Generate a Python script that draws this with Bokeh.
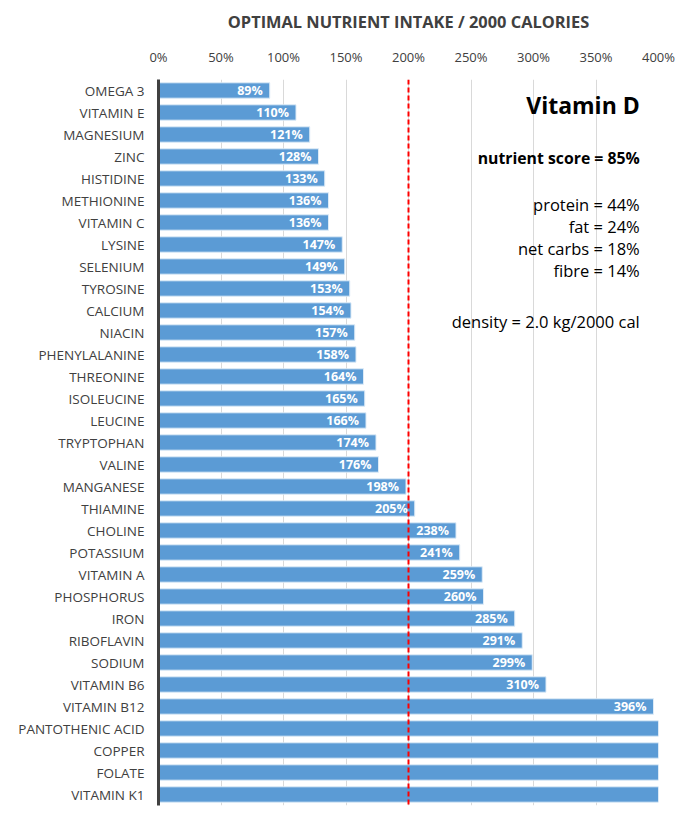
from bokeh.plotting import figure
from bokeh.models import ColumnDataSource, Span, FixedTicker, Label, Range1d
from bokeh.core.properties import value
from bokeh.embed import file_html
from bokeh.resources import INLINE

nutrients = ["OMEGA 3", "VITAMIN E", "MAGNESIUM", "ZINC", "HISTIDINE", "METHIONINE",
             "VITAMIN C", "LYSINE", "SELENIUM", "TYROSINE", "CALCIUM", "NIACIN",
             "PHENYLALANINE", "THREONINE", "ISOLEUCINE", "LEUCINE", "TRYPTOPHAN", "VALINE",
             "MANGANESE", "THIAMINE", "CHOLINE", "POTASSIUM", "VITAMIN A", "PHOSPHORUS",
             "IRON", "RIBOFLAVIN", "SODIUM", "VITAMIN B6", "VITAMIN B12",
             "PANTOTHENIC ACID", "COPPER", "FOLATE", "VITAMIN K1"]
values = [89, 110, 121, 128, 133, 136, 136, 147, 149, 153, 154, 157, 158, 164, 165, 166,
          174, 176, 198, 205, 238, 241, 259, 260, 285, 291, 299, 310, 396,
          480, 540, 610, 720]
x_ticks = [0, 50, 100, 150, 200, 250, 300, 350, 400]
title_text = "OPTIMAL NUTRIENT INTAKE / 2000 CALORIES"
food_name = "Vitamin D"
score_text = "nutrient score = 85%"
macro_lines = ["protein = 44%", "fat = 24%", "net carbs = 18%", "fibre = 14%"]
density_text = "density = 2.0 kg/2000 cal"

n = len(nutrients)
idx = list(range(n))
src = ColumnDataSource(dict(y=idx, v=values, right=[min(v, 400) for v in values]))
lab_idx = [i for i, v in enumerate(values) if v <= 400]
lab_src = ColumnDataSource(dict(y=lab_idx, x=[values[i] for i in lab_idx],
                                t=[f"{values[i]}%" for i in lab_idx]))

FONT = "Open Sans"
p = figure(width=675, height=808, output_backend="svg", toolbar_location=None,
           x_range=Range1d(0, 400), y_range=Range1d(n - 0.5, -0.5),
           x_axis_location="above", min_border_left=158, min_border_right=17,
           min_border_top=79, min_border_bottom=3)
p.outline_line_color = None
p.background_fill_color = "white"

p.hbar(y="y", left=0, right="right", height=0.7, source=src,
       fill_color="#5B9BD5", line_color="#DDEBF7", line_width=1)

p.text(x="x", y="y", text="t", source=lab_src, text_align="right", text_baseline="middle",
       x_offset=-7, text_color="white", text_font=value(FONT), text_font_style="bold",
       text_font_size="12.5px")

p.add_layout(Span(location=200, dimension="height", line_color="#FF0000",
                  line_width=2, line_dash="5 3"))

# axes
xa = p.xaxis[0]
xa.ticker = FixedTicker(ticks=x_ticks)
xa.major_label_overrides = {t: f"{t}%" for t in x_ticks}
xa.axis_line_color = None
xa.major_tick_line_color = None
xa.minor_tick_line_color = None
xa.major_label_standoff = 8
xa.major_label_text_font = FONT
xa.major_label_text_font_size = "13px"
xa.major_label_text_color = "#404040"
xa.axis_label = title_text
xa.axis_label_text_font = FONT
xa.axis_label_text_font_style = "bold"
xa.axis_label_text_font_size = "16.4px"
xa.axis_label_text_color = "#404040"
xa.axis_label_standoff = 12

ya = p.yaxis[0]
ya.ticker = FixedTicker(ticks=idx)
ya.major_label_overrides = {i: nm for i, nm in enumerate(nutrients)}
ya.axis_line_color = "#404040"
ya.axis_line_width = 3
ya.major_tick_line_color = None
ya.minor_tick_line_color = None
ya.major_label_standoff = 8
ya.major_label_text_font = FONT
ya.major_label_text_font_size = "13.5px"
ya.major_label_text_color = "#404040"

p.xgrid.ticker = FixedTicker(ticks=x_ticks)
p.xgrid.grid_line_color = "#D9D9D9"
p.ygrid.grid_line_color = None

# annotations
ax = 385
p.add_layout(Label(x=ax, y=0.64, text=food_name, text_align="right", text_baseline="middle",
                   text_font=FONT, text_font_style="bold", text_font_size="23px",
                   text_color="black"))
p.add_layout(Label(x=ax, y=3.05, text=score_text, text_align="right", text_baseline="middle",
                   text_font=FONT, text_font_style="bold", text_font_size="15.8px",
                   text_color="black"))
for yy, t in zip([5.18, 6.18, 7.18, 8.18], macro_lines):
    p.add_layout(Label(x=ax, y=yy, text=t, text_align="right", text_baseline="middle",
                       text_font=FONT, text_font_size="16.5px", text_color="black"))
p.add_layout(Label(x=ax, y=10.5, text=density_text, text_align="right", text_baseline="middle",
                   text_font=FONT, text_font_size="16.5px", text_color="black"))

open("out.html", "w").write(file_html(p, INLINE))
